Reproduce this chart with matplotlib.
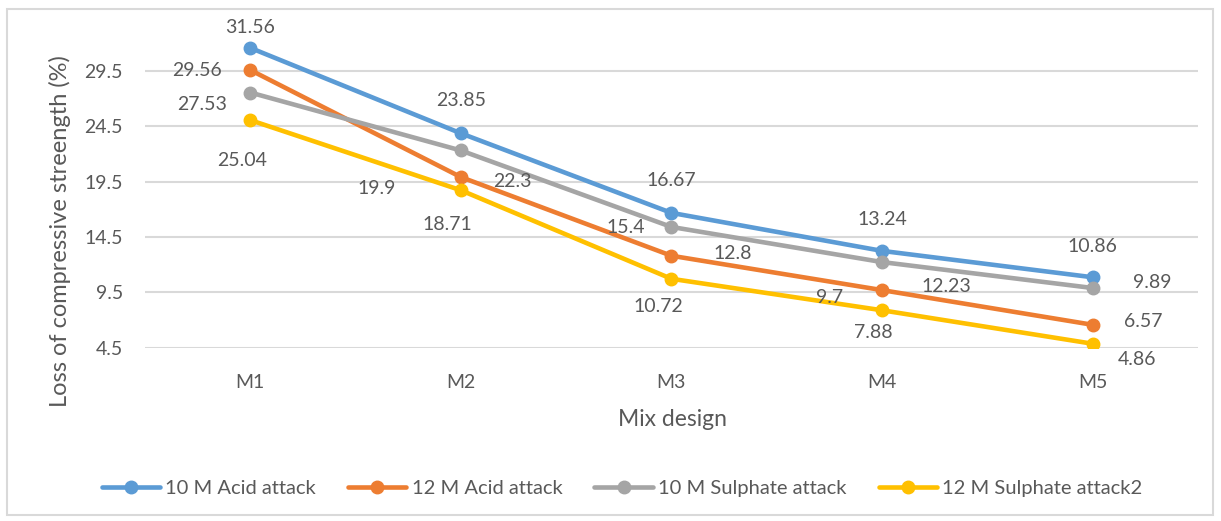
import matplotlib
matplotlib.use("Agg")
import matplotlib.pyplot as plt
from matplotlib.patches import Rectangle

mixes = ["M1", "M2", "M3", "M4", "M5"]
acid_10m = [31.56, 23.85, 16.67, 13.24, 10.86]
acid_12m = [29.56, 19.9, 12.8, 9.7, 6.57]
sulphate_10m = [27.53, 22.3, 15.4, 12.23, 9.89]
sulphate_12m = [25.04, 18.71, 10.72, 7.88, 4.86]
series_names = ["10 M Acid attack", "12 M Acid attack",
                "10 M Sulphate attack", "12 M Sulphate attack2"]
y_ticks = [4.5, 9.5, 14.5, 19.5, 24.5, 29.5]

colors = ["#5B9BD5", "#ED7D31", "#A5A5A5", "#FFC000"]
text_color = "#595959"

# label offsets in pixels (dx, dy) for each series / point
label_offsets = [
    [(0, 20), (0, 33), (0, 32), (0, 31), (0, 31)],
    [(-53, 0), (-84, -11), (61, 2), (-52, -7), (51, 3)],
    [(-48, -12), (52, -31), (-46, -1), (64, -24), (60, 5)],
    [(-8, -40), (-14, -34), (-13, -28), (-9, -22), (45, -16)],
]

plt.rcParams["font.family"] = ["Lato", "DejaVu Sans"]

fig = plt.figure(figsize=(12.21, 5.21), dpi=100)
ax = fig.add_axes([0.1188, 0.3326, 0.981 - 0.1188, 0.9706 - 0.3326])

x = list(range(len(mixes)))
all_series = [acid_10m, acid_12m, sulphate_10m, sulphate_12m]
for vals, name, col, offs in zip(all_series, series_names, colors, label_offsets):
    ax.plot(x, vals, color=col, lw=3.3, marker="o", ms=9, label=name,
            solid_capstyle="round", zorder=3)
    for xi, v, (dx, dy) in zip(x, vals, offs):
        ax.annotate(f"{v:g}", (xi, v), xytext=(dx, dy), textcoords="offset pixels",
                    ha="center", va="center", fontsize=14, color=text_color, zorder=4)

ax.set_xlim(-0.5, 4.5)
ax.set_ylim(4.5, 34.5)
ax.set_yticks(y_ticks)
ax.set_yticklabels([f"{t:g}" for t in y_ticks])
ax.set_xticks(x)
ax.set_xticklabels(mixes)
ax.grid(axis="y", color="#D9D9D9", lw=1.5, zorder=0)
ax.tick_params(length=0, labelsize=14, colors=text_color)
ax.tick_params(axis="x", pad=19)
ax.tick_params(axis="y", pad=16)
for s in ax.spines.values():
    s.set_visible(False)

fig.text(672 / 1221, 1 - 420 / 521, "Mix design", ha="center", va="center",
         fontsize=16.5, color=text_color)
fig.text(60 / 1221, 1 - 231 / 521, "Loss of compressive streength (%)",
         rotation=90, ha="center", va="center", fontsize=17, color=text_color)

leg = fig.legend(loc="center", bbox_to_anchor=(622 / 1221, 1 - 488 / 521),
                 ncol=4, frameon=False, handlelength=2.9, handletextpad=0.25,
                 columnspacing=1.6, borderaxespad=0, fontsize=14.5)
for t in leg.get_texts():
    t.set_color(text_color)

fig.patches.append(Rectangle((7 / 1221, 1 - 515 / 521), (1213 - 7) / 1221, (515 - 9) / 521,
                             transform=fig.transFigure, fill=False,
                             edgecolor="#D9D9D9", lw=1.5))

fig.savefig("out.png", dpi=100)
plt.close(fig)
